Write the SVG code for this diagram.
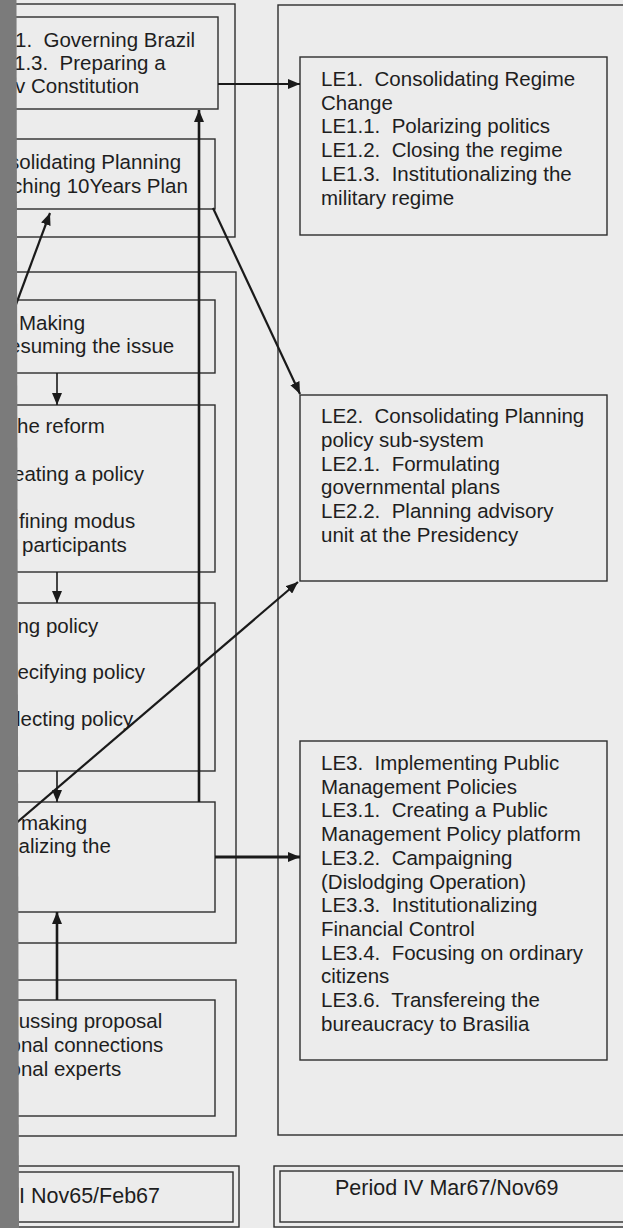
<svg xmlns="http://www.w3.org/2000/svg" width="623" height="1228" viewBox="0 0 623 1228">
<style>
.bg{fill:#ececec}
.box{fill:none;stroke:#2e2e2e;stroke-width:1.4}
.t{font-family:"Liberation Sans",Arial,sans-serif;font-size:20.5px;fill:#1e1e1e;white-space:pre}
.lbl{font-family:"Liberation Sans",Arial,sans-serif;font-size:21.5px;fill:#1e1e1e;white-space:pre}
.c{fill:none;stroke:#1a1a1a;stroke-width:2.2}
.cd{fill:none;stroke:#1a1a1a;stroke-width:1.6}
</style>
<defs>
<marker id="ah" viewBox="0 0 12 10" refX="12" refY="5" markerWidth="12" markerHeight="10" markerUnits="userSpaceOnUse" orient="auto">
<path d="M0,0 L12,5 L0,10 z" fill="#1a1a1a"/>
</marker>
</defs>
<rect class="bg" x="0" y="0" width="623" height="1228"/>

<g id="period3-top">
<rect class="box" x="-20" y="4" width="255" height="233"/>
</g>
<g id="period3-mid">
<rect class="box" x="-20" y="272" width="256" height="671"/>
</g>
<g id="period3-bottom">
<rect class="box" x="-20" y="980" width="256" height="156"/>
</g>

<g id="node-governing">
<rect class="box" x="-20" y="17" width="238" height="92"/>
<text class="t" x="15" y="46.7">1.  Governing Brazil</text>
<text class="t" x="14" y="70">1.3.  Preparing a</text>
<text class="t" x="15" y="93.3">v Constitution</text>
</g>
<g id="node-consolidating">
<rect class="box" x="-20" y="139" width="235" height="70"/>
<text class="t" x="9" y="168.5">solidating Planning</text>
<text class="t" x="12" y="192.5">ching 10Years Plan</text>
</g>
<g id="node-making">
<rect class="box" x="-20" y="300" width="235" height="73"/>
<text class="t" x="19" y="330">Making</text>
<text class="t" x="9" y="352.7">esuming the issue</text>
</g>
<g id="node-reform">
<rect class="box" x="-20" y="405" width="235" height="167"/>
<text class="t" x="17" y="433.3">he reform</text>
<text class="t" x="13" y="480.7">eating a policy</text>
<text class="t" x="19" y="528.3">fining modus</text>
<text class="t" x="22" y="551.5">participants</text>
</g>
<g id="node-policy">
<rect class="box" x="-20" y="603" width="235" height="168"/>
<text class="t" x="17.4" y="632.7">ng policy</text>
<text class="t" x="17.4" y="679.3">ecifying policy</text>
<text class="t" x="16" y="726">lecting policy</text>
</g>
<g id="node-decision">
<rect class="box" x="-20" y="802" width="235" height="110"/>
<text class="t" x="21" y="830">making</text>
<text class="t" x="18.5" y="853.3">alizing the</text>
</g>
<g id="node-discussing">
<rect class="box" x="-20" y="1000" width="235" height="116"/>
<text class="t" x="18.7" y="1028.3">ussing proposal</text>
<text class="t" x="9.5" y="1051.7">onal connections</text>
<text class="t" x="9.5" y="1076">onal experts</text>
</g>

<g id="period4">
<rect class="box" x="278" y="5" width="400" height="1130"/>
</g>
<g id="node-LE1">
<rect class="box" x="300" y="57" width="307" height="178"/>
<text class="t" x="321" y="86">LE1.  Consolidating Regime</text>
<text class="t" x="321" y="109.7">Change</text>
<text class="t" x="321" y="133.4">LE1.1.  Polarizing politics</text>
<text class="t" x="321" y="157.1">LE1.2.  Closing the regime</text>
<text class="t" x="321" y="180.8">LE1.3.  Institutionalizing the</text>
<text class="t" x="321" y="204.5">military regime</text>
</g>
<g id="node-LE2">
<rect class="box" x="300" y="395" width="307" height="186"/>
<text class="t" x="321" y="423.3">LE2.  Consolidating Planning</text>
<text class="t" x="321" y="447">policy sub-system</text>
<text class="t" x="321" y="470.7">LE2.1.  Formulating</text>
<text class="t" x="321" y="494.4">governmental plans</text>
<text class="t" x="321" y="518.1">LE2.2.  Planning advisory</text>
<text class="t" x="321" y="541.8">unit at the Presidency</text>
</g>
<g id="node-LE3">
<rect class="box" x="300" y="741" width="307" height="319"/>
<text class="t" x="321" y="770">LE3.  Implementing Public</text>
<text class="t" x="321" y="793.7">Management Policies</text>
<text class="t" x="321" y="817.4">LE3.1.  Creating a Public</text>
<text class="t" x="321" y="841.1">Management Policy platform</text>
<text class="t" x="321" y="864.8">LE3.2.  Campaigning</text>
<text class="t" x="321" y="888.5">(Dislodging Operation)</text>
<text class="t" x="321" y="912.2">LE3.3.  Institutionalizing</text>
<text class="t" x="321" y="935.9">Financial Control</text>
<text class="t" x="321" y="959.6">LE3.4.  Focusing on ordinary</text>
<text class="t" x="321" y="983.3">citizens</text>
<text class="t" x="321" y="1007">LE3.6.  Transfereing the</text>
<text class="t" x="321" y="1030.7">bureaucracy to Brasilia</text>
</g>

<g id="label-period3">
<rect class="box" x="-20" y="1166" width="259" height="61"/>
<rect class="box" x="-20" y="1172" width="253" height="50"/>
<text class="lbl" x="19" y="1203">I Nov65/Feb67</text>
</g>
<g id="label-period4">
<rect class="box" x="274" y="1166" width="400" height="61"/>
<rect class="box" x="280" y="1171" width="400" height="51"/>
<text class="lbl" x="335" y="1195">Period IV Mar67/Nov69</text>
</g>

<g id="connectors">
<path class="c" d="M218,84 L300,84" marker-end="url(#ah)"/>
<path class="c" style="stroke-width:2.6" d="M199,802 L199,110" marker-end="url(#ah)"/>
<path class="c" d="M8,326 L50,213" marker-end="url(#ah)"/>
<path class="c" d="M213,208 L300,394" marker-end="url(#ah)"/>
<path class="c" d="M0,837 L298,582" marker-end="url(#ah)"/>
<path class="c" style="stroke-width:2.8" d="M215,857 L300,857" marker-end="url(#ah)"/>
<path class="cd" d="M57,373 L57,405" marker-end="url(#ah)"/>
<path class="cd" d="M57,572 L57,603" marker-end="url(#ah)"/>
<path class="cd" d="M57,771 L57,802" marker-end="url(#ah)"/>
<path class="c" style="stroke-width:2.6" d="M57,1000 L57,912" marker-end="url(#ah)"/>
</g>

<g id="side-bar">
<polygon points="0,0 16.5,0 19,1228 0,1228" fill="#7b7b7b"/>
</g>
</svg>
